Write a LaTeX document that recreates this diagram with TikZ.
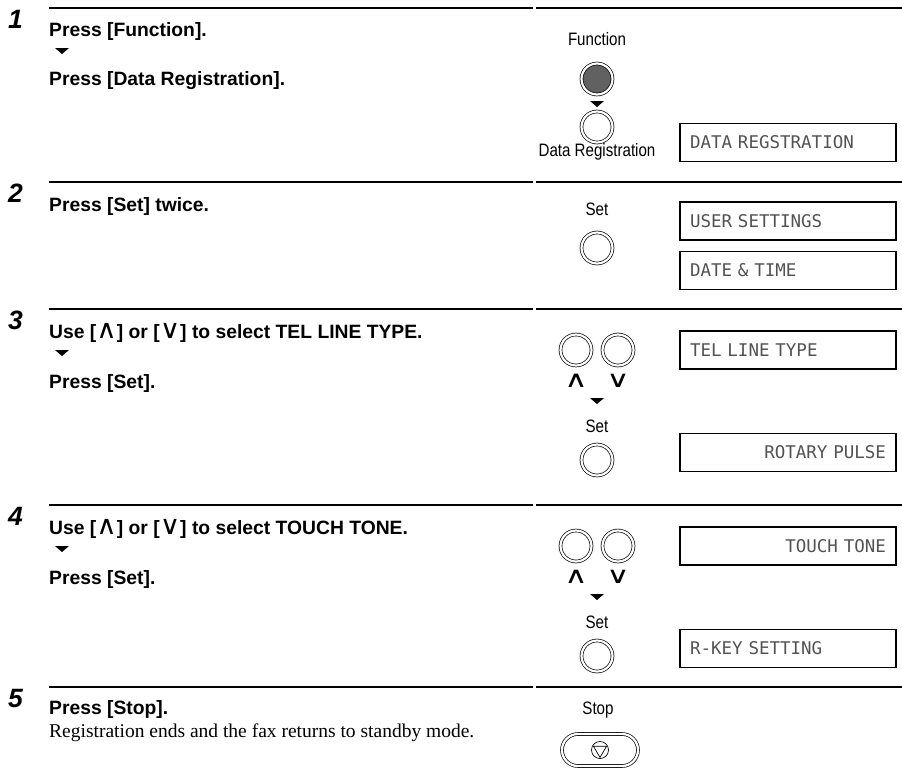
\documentclass[tikz,border=0pt]{standalone}
\usepackage{fontspec}
\usepackage{graphicx}
\setmainfont{Liberation Sans}
\newfontfamily\keyfont[FakeStretch=0.84]{Liberation Sans}
\newfontfamily\lcdfont{DejaVu Sans Mono}
\newfontfamily\symfont{DejaVu Sans}
\newfontfamily\bodyfont{Liberation Serif}
\usetikzlibrary{positioning, calc, shapes.misc}
\newcommand{\upsym}{\scalebox{1.45}[1.35]{\symfont\mdseries ∧}}
\newcommand{\downsym}{\scalebox{1.45}[1.35]{\symfont\mdseries ∨}}
\newcommand{\uplbl}{\scalebox{1.6}[1.15]{∧}}
\newcommand{\downlbl}{\scalebox{1.6}[1.15]{∨}}

\begin{document}
\begin{tikzpicture}[x=1pt, y=-1pt,
        stepnum/.style={anchor=base west, inner sep=0pt, font=\fontsize{26.5}{30}\selectfont\bfseries\itshape},
        instr/.style={anchor=base west, inner sep=0pt, font=\fontsize{19.3}{23}\selectfont\bfseries},
        note/.style={anchor=base west, inner sep=0pt, font=\fontsize{19.5}{23}\selectfont\bodyfont},
        keylabel/.style={anchor=base, inner sep=0pt, font=\fontsize{18}{21}\selectfont\keyfont},
        arrowlabel/.style={anchor=center, inner sep=0pt, font=\fontsize{20}{24}\selectfont\symfont},
        keybtn/.style={circle, draw, line width=0.7pt, double, double distance=2.2pt, minimum size=31pt, inner sep=0pt},
        stopbtn/.style={rounded rectangle, draw, line width=0.7pt, double, double distance=2.2pt, minimum width=76pt, minimum height=32pt, inner sep=0pt},
        lcd/.style={draw, line width=1.8pt, minimum width=216pt, minimum height=38pt, inner sep=0pt, text width=196pt, font=\fontsize{17.5}{20}\selectfont\lcdfont, text=black!68},
        rule/.style={line width=2pt},
        downmark/.pic={\fill (-7,0) -- (7,0) -- (0,6) -- cycle;}
    ]
        \useasboundingbox (0,0) rectangle (902,769);

        % step rules and numbers
        \foreach \n/\ry in {1/8, 2/182, 3/309, 4/505, 5/687} {
            \draw[rule] (49,\ry) -- (533,\ry);
            \draw[rule] (536,\ry) -- (902,\ry);
            \node[stepnum] (num\n) at (8,\ry+20) {\n};
        }

        % step 1
        \node[instr] (s1a) at (49,36) {Press [Function].};
        \pic at (62,48) {downmark};
        \node[instr] (s1b) at (49,85) {Press [Data Registration].};
        \node[keylabel] (fnlabel) at (597,45) {Function};
        \node[keybtn, fill=black!62] (fnkey) at (597,79) {};
        \node[keybtn] (drkey) at (597,127) {};
        \node[keylabel] (drlabel) at (597,156) {Data Registration};
        \pic at ($(fnkey.south)!0.5!(drkey.north)+(0,-2)$) {downmark};
        \node[lcd, align=left] (dispdata) at (788,142.5) {DATA REGSTRATION};

        % step 2
        \node[instr] (s2a) at (49,211) {Press [Set] twice.};
        \node[keylabel] (setlabelA) at (597,215) {Set};
        \node[keybtn] (setkeyA) at (597,248) {};
        \node[lcd, align=left] (dispuser) at (788,221) {USER SETTINGS};
        \node[lcd, align=left] (dispdate) at (788,270.5) {DATE \& TIME};

        % step 3
        \node[instr] (s3a) at (49,338) {Use [\upsym] or [\downsym] to select TEL LINE TYPE.};
        \pic at (62,350) {downmark};
        \node[instr] (s3b) at (49,388) {Press [Set].};
        \node[keybtn] (upkeyA) at (576,350) {};
        \node[keybtn] (downkeyA) at (618,350) {};
        \node[arrowlabel] (uplabelA) at (576,381) {\uplbl};
        \node[arrowlabel] (downlabelA) at (618,381) {\downlbl};
        \pic at (597,398) {downmark};
        \node[keylabel] (setlabelB) at (597,432) {Set};
        \node[keybtn] (setkeyB) at (597,460) {};
        \node[lcd, align=left] (disptel) at (788,350) {TEL LINE TYPE};
        \node[lcd, align=right] (disprotary) at (788,452.5) {ROTARY PULSE};

        % step 4
        \node[instr] (s4a) at (49,534) {Use [\upsym] or [\downsym] to select TOUCH TONE.};
        \pic at (62,546) {downmark};
        \node[instr] (s4b) at (49,584) {Press [Set].};
        \node[keybtn] (upkeyB) at (576,546) {};
        \node[keybtn] (downkeyB) at (618,546) {};
        \node[arrowlabel] (uplabelB) at (576,577) {\uplbl};
        \node[arrowlabel] (downlabelB) at (618,577) {\downlbl};
        \pic at (597,594) {downmark};
        \node[keylabel] (setlabelC) at (597,628) {Set};
        \node[keybtn] (setkeyC) at (597,656) {};
        \node[lcd, align=right] (disptouch) at (788,546) {TOUCH TONE};
        \node[lcd, align=left] (dispreg) at (788,648.5) {R-KEY SETTING};

        % step 5
        \node[instr] (s5a) at (49,714) {Press [Stop].};
        \node[note] (s5b) at (49,737) {Registration ends and the fax returns to standby mode.};
        \node[keylabel] (stoplabel) at (598,714) {Stop};
        \node[stopbtn] (stopkey) at (600,750) {};
        \draw[line width=0.7pt] (stopkey.center) circle[radius=8.5pt];
        \draw[line width=0.7pt, line join=round] ($(stopkey.center)+(0,7.5)$) -- ($(stopkey.center)+(-6.5,-3.75)$) -- ($(stopkey.center)+(6.5,-3.75)$) -- cycle;
    \end{tikzpicture}
\end{document}
